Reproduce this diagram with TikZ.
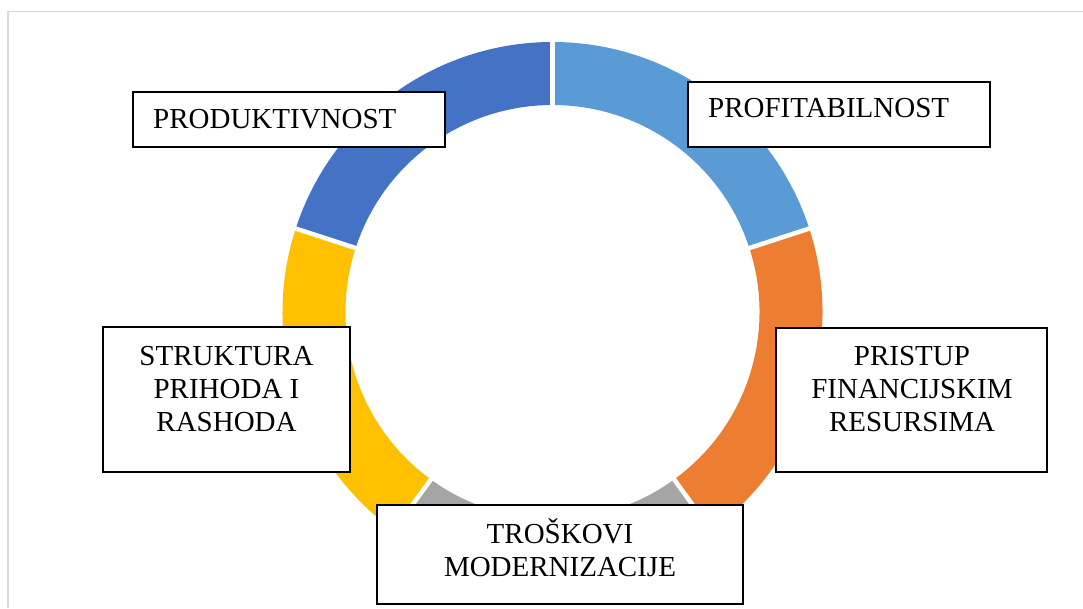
\documentclass[tikz,border=0pt]{standalone}
\usepackage{fontspec}
\setmainfont{Liberation Serif}
\definecolor{cLBlue}{HTML}{5B9BD5}
\definecolor{cOrange}{HTML}{ED7D31}
\definecolor{cGray}{HTML}{A5A5A5}
\definecolor{cYellow}{HTML}{FFC000}
\definecolor{cBlue}{HTML}{4472C4}
\definecolor{cFrame}{HTML}{D9D9D9}
\tikzset{
  box/.style={draw=black, line width=1.6pt, fill=white, rectangle, inner sep=0pt},
  lbl/.style={inner sep=0pt, font=\fontsize{29}{33}\selectfont, align=center},
  sep/.style={white, line width=4.5pt},
}
\newcommand{\ringseg}[3]{% color, start, end
  \fill[#1] ([shift={(c)}]#2:270) arc[start angle=#2, end angle=#3, radius=270]
    -- ([shift={(c)}]#3:207) arc[start angle=#3, end angle=#2, radius=207] -- cycle;}
\begin{document}
\begin{tikzpicture}[x=1pt,y=1pt]
\useasboundingbox (0,0) rectangle (1083,608);
\fill[white] (0,0) rectangle (1083,608);
% frame
\draw[cFrame, line width=1.5pt] (8,0) -- (8,596.5) -- (1083,596.5);
% ring
\coordinate (c) at (552.5,296);
\ringseg{cLBlue}{90}{18}
\ringseg{cOrange}{18}{-54}
\ringseg{cGray}{-54}{-126}
\ringseg{cYellow}{-126}{-198}
\ringseg{cBlue}{162}{90}
\foreach \a in {90,18,-54,-126,162}{
  \draw[sep] ([shift={(c)}]\a:200) -- ([shift={(c)}]\a:275);
}
% boxes
\node[box, minimum width=312pt, minimum height=55pt] (b1) at (289,488.5) {};
\node[box, minimum width=302pt, minimum height=65pt] (b2) at (839,493.5) {};
\node[box, minimum width=247pt, minimum height=145pt] (b3) at (226.5,208.5) {};
\node[box, minimum width=271pt, minimum height=144pt] (b4) at (911.5,208) {};
\node[box, minimum width=366pt, minimum height=99pt] (b5) at (560,53.5) {};
% labels
\node[lbl, anchor=base west] (t1) at (153,479) {PRODUKTIVNOST};
\node[lbl, anchor=base west] (t2) at (708,490) {PROFITABILNOST};
\node[lbl, anchor=north] (t3) at (226.5,262) {STRUKTURA\\PRIHODA I\\RASHODA};
\node[lbl, anchor=north] (t4) at (912,262) {PRISTUP\\FINANCIJSKIM\\RESURSIMA};
\node[lbl, anchor=north] (t5) at (560,90) {TROŠKOVI\\MODERNIZACIJE};
\end{tikzpicture}
\end{document}
